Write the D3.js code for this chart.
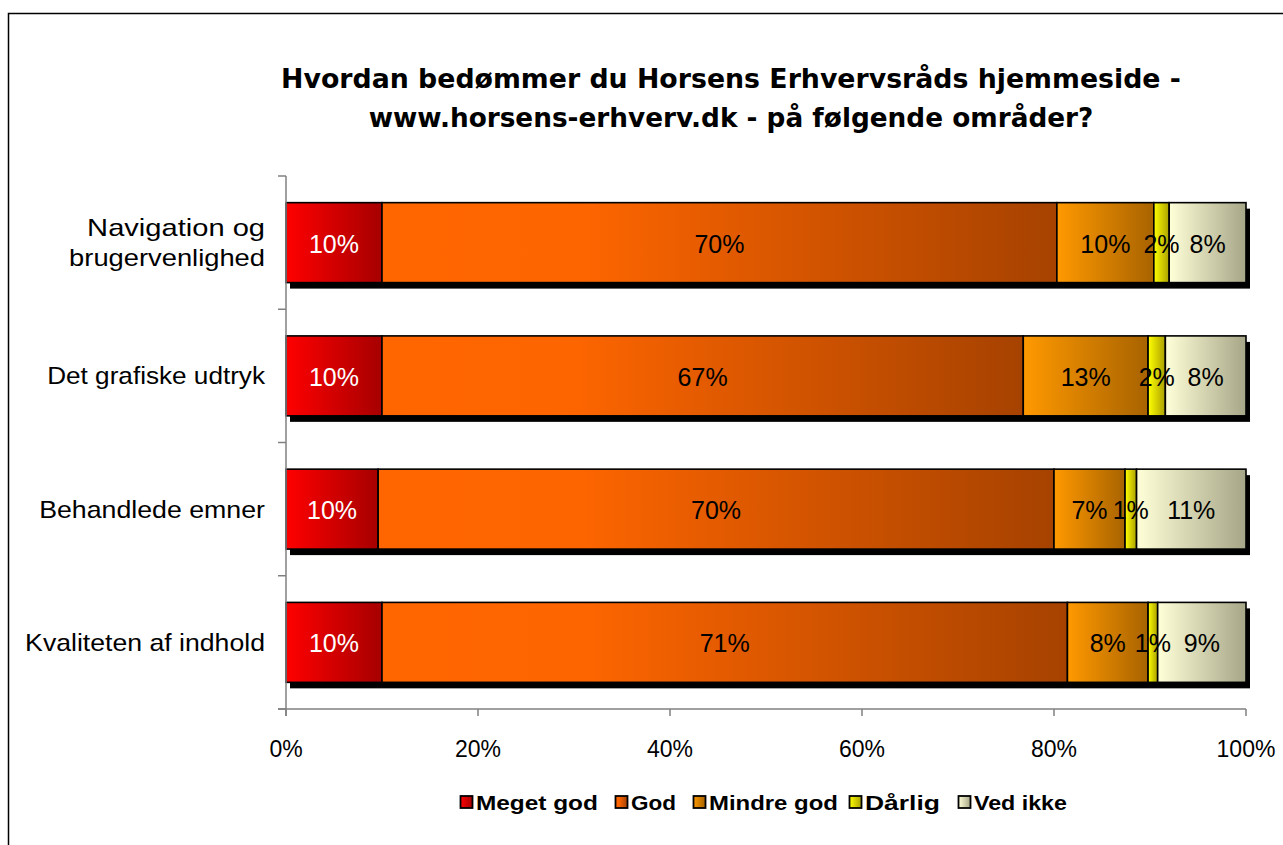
<!DOCTYPE html>
<html><head><meta charset="utf-8">
<script src="https://cdn.jsdelivr.net/npm/d3@7"></script>
<style>body{margin:0;background:#fff}svg{display:block}</style>
</head><body>
<svg id="c" width="1283" height="845"></svg>
<script>
const titleLines = ["Hvordan bedømmer du Horsens Erhvervsråds hjemmeside -", "www.horsens-erhverv.dk - på følgende områder?"];
const categories = [["Navigation og","brugervenlighed"],["Det grafiske udtryk"],["Behandlede emner"],["Kvaliteten af indhold"]];
const seriesNames = ["Meget god","God","Mindre god","Dårlig","Ved ikke"];
const megetGod = [10.0, 10.0, 9.6, 10.0];
const god      = [70.3, 66.8, 70.4, 71.4];
const mindreGod= [10.1, 13.0, 7.4, 8.4];
const darlig   = [1.6, 1.8, 1.2, 1.0];
const vedIkke  = [8.0, 8.4, 11.4, 9.2];
const xTicks = [0, 20, 40, 60, 80, 100];
const seriesValues = [megetGod, god, mindreGod, darlig, vedIkke];
const gradStops = [
  [["0%","#FF0000"],["100%","#A60000"]],
  [["0%","#FF6600"],["30%","#FD6500"],["100%","#A64200"]],
  [["0%","#FF9900"],["100%","#A86300"]],
  [["0%","#FFFF00"],["100%","#ABA000"]],
  [["0%","#FFFFD8"],["100%","#A6A688"]]
];
const labelColors = ["#fff","#000","#000","#000","#000"];
const ARIAL = "Liberation Sans, Arial, sans-serif";

const svg = d3.select("#c");
const defs = svg.append("defs");
gradStops.forEach((st,i)=>{
  const g = defs.append("linearGradient").attr("id","g"+i).attr("x1","0%").attr("x2","100%").attr("y1","0%").attr("y2","0%");
  st.forEach(s=>g.append("stop").attr("offset",s[0]).attr("stop-color",s[1]));
});

function stretch(el, ax, target){
  const w = el.getBBox().width;
  const s = target / w;
  d3.select(el).attr("transform",`translate(${ax},0) scale(${s},1) translate(${-ax},0)`);
}

svg.append("rect").attr("x",8.5).attr("y",13.5).attr("width",1400).attr("height",1000)
  .attr("fill","none").attr("stroke","#000").attr("stroke-width",1.5);

const x = d3.scaleLinear().domain([0,100]).range([286,1246]);
const y = d3.scaleBand().domain(d3.range(categories.length)).range([176,709]).paddingInner(0.4).paddingOuter(0.2);

const rows = categories.map((c,i)=>{
  let acc = 0;
  return seriesValues.map((s,k)=>{ const d={row:i,k,v:s[i],x0:acc,x1:acc+s[i]}; acc+=s[i]; return d; });
});

svg.append("g").selectAll("rect").data(rows).join("rect")
  .attr("x",d=>x(0)+4).attr("y",(d,i)=>y(i)+6)
  .attr("width",d=>x(d[d.length-1].x1)-x(0)).attr("height",y.bandwidth())
  .attr("fill","#000");

const segs = rows.flat();
svg.append("g").selectAll("rect").data(segs).join("rect")
  .attr("x",d=>x(d.x0)).attr("y",d=>y(d.row))
  .attr("width",d=>x(d.x1)-x(d.x0)).attr("height",y.bandwidth())
  .attr("fill",d=>`url(#g${d.k})`).attr("stroke","#000").attr("stroke-width",1.6);

svg.append("g").selectAll("text").data(segs).join("text")
  .attr("x",d=>(x(d.x0)+x(d.x1))/2).attr("y",d=>y(d.row)+y.bandwidth()/2+1)
  .attr("text-anchor","middle").attr("dominant-baseline","central")
  .attr("font-family",ARIAL).attr("font-size",25)
  .attr("fill",d=>labelColors[d.k]).text(d=>Math.round(d.v)+"%");

const ax = svg.append("g");
ax.append("line").attr("x1",286).attr("x2",286).attr("y1",176).attr("y2",716).attr("stroke","#808080").attr("stroke-width",1.5);
const bounds = d3.range(categories.length+1).map(i=>176+i*y.step());
ax.selectAll(".yt").data(bounds).join("line").attr("class","yt")
  .attr("x1",278).attr("x2",286).attr("y1",d=>d).attr("y2",d=>d).attr("stroke","#808080").attr("stroke-width",1.5);
ax.append("line").attr("x1",278).attr("x2",1246).attr("y1",709).attr("y2",709).attr("stroke","#808080").attr("stroke-width",1.5);
ax.selectAll(".xt").data(xTicks).join("line").attr("class","xt")
  .attr("x1",d=>x(d)).attr("x2",d=>x(d)).attr("y1",709).attr("y2",716).attr("stroke","#808080").attr("stroke-width",1.5);
ax.selectAll(".xl").data(xTicks).join("text").attr("class","xl")
  .attr("x",d=>x(d)).attr("y",749).attr("text-anchor","middle").attr("dominant-baseline","central")
  .attr("font-family",ARIAL).attr("font-size",23).text(d=>d+"%");

const catWidths = [[178,196],[219],[226],[240]];
const cl = svg.append("g").selectAll("g").data(categories).join("g");
cl.each(function(lines,i){
  const g = d3.select(this);
  const cy = y(i)+y.bandwidth()/2;
  const lh = 30;
  lines.forEach((ln,j)=>{
    const t = g.append("text").attr("x",265).attr("y",cy+(j-(lines.length-1)/2)*lh)
      .attr("text-anchor","end").attr("dominant-baseline","central")
      .attr("font-family",ARIAL).attr("font-size",24).text(ln);
    stretch(t.node(),265,catWidths[i][j]);
  });
});

svg.append("g").selectAll("text").data(titleLines).join("text")
  .attr("x",731).attr("y",(d,i)=>78+i*40).attr("text-anchor","middle").attr("dominant-baseline","central")
  .attr("font-family","DejaVu Sans, Verdana, sans-serif").attr("font-weight","bold").attr("font-size",25)
  .text(d=>d)
  .each(function(d,i){
    const target = i===0 ? 900 : 725;
    const w = this.getComputedTextLength();
    d3.select(this).attr("font-size",25*target/w);
  });

const legX = [460, 615, 693, 849, 958];
const legW = [122, 45, 129, 75, 93];
const lg = svg.append("g").selectAll("g").data(seriesNames).join("g")
  .attr("transform",(d,i)=>`translate(${legX[i]},802)`);
lg.append("rect").attr("x",0.5).attr("y",-6).attr("width",12).attr("height",12)
  .attr("fill",(d,i)=>`url(#g${i})`).attr("stroke","#000").attr("stroke-width",1.8);
lg.append("text").attr("x",16).attr("y",1).attr("dominant-baseline","central")
  .attr("font-family",ARIAL).attr("font-weight","bold").attr("font-size",21).text(d=>d)
  .each(function(d,i){ stretch(this,16,legW[i]); });
</script>
</body></html>
